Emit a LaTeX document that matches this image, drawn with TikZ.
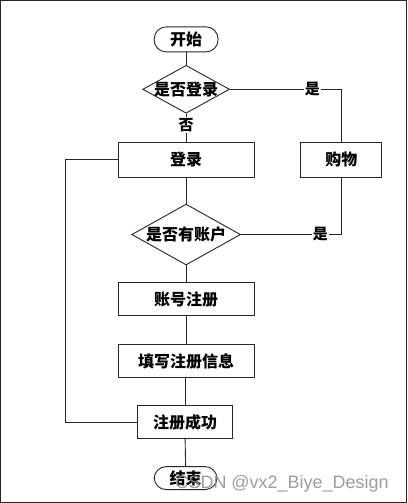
\documentclass[tikz,border=0pt]{standalone}
\usepackage{fontspec}
\newfontfamily\cjk{Noto Sans CJK SC}
\newfontfamily\wmfont{Liberation Sans}
\usetikzlibrary{shapes.geometric}
\begin{document}
\begin{tikzpicture}[x=1pt,y=-1pt,
  every path/.style={line width=0.9pt, draw=black!85},
  cn/.style={font=\cjk\bfseries\fontsize{16}{16}\selectfont},
  box/.style={cn, draw, rectangle, minimum width=136pt, minimum height=35pt, inner sep=0pt},
  term/.style={cn, draw, rectangle, rounded corners=12pt, minimum width=64pt, minimum height=25pt, inner sep=0pt},
  diam/.style={draw, diamond, inner sep=0pt},
  lbl/.style={font=\cjk\bfseries\fontsize{15}{15}\selectfont, fill=white, inner sep=1pt},
  line/.style={draw}]
\useasboundingbox[fill=white] (0,0) rectangle (407,503);

\node[term] (start) at (186,39) {开始};
\node[diam, minimum width=87pt, minimum height=48pt] (d1) at (186,89) {};
\node[cn] (d1t) at (d1) {是否登录};
\node[box] (login) at (186,159.5) {登录};
\node[box, minimum width=81pt] (shop) at (341.5,159.5) {购物};
\node[diam, minimum width=109pt, minimum height=61pt] (d2) at (186,234.5) {};
\node[cn] (d2t) at (d2) {是否有账户};
\node[box, minimum height=33pt] (acct) at (186,299.5) {账号注册};
\node[box, minimum height=33pt] (fill) at (186,361.5) {填写注册信息};
\node[box, minimum width=95pt, minimum height=33pt] (succ) at (185,422.5) {注册成功};
\node[term, minimum height=23pt, minimum width=63pt] (end) at (185.5,478.5) {结束};

\coordinate (t1) at (shop.north |- d1.east);
\coordinate (t2) at (shop.south |- d2.east);
\coordinate (l1) at ([xshift=-52pt]login.west);

\draw (start.south) -- (d1.north);
\draw (d1.south) -- node[lbl, pos=0.4] (no1) {否} (login.north);
\draw (d1.east) -- node[lbl, pos=0.74] (yes1) {是} (t1) -- (shop.north);
\draw (login.south) -- (d2.north);
\draw (d2.east) -- node[lbl, pos=0.79] (yes2) {是} (t2) -- (shop.south);
\draw (d2.south) -- (acct.north);
\draw (acct.south) -- (fill.north);
\draw (fill.south -| succ.north) -- (succ.north);
\draw (succ.south) -- (end.north);
\draw (login.west) -- (l1) |- (succ.west);

\node[font=\wmfont\fontsize{18}{18}\selectfont, text=black!45, opacity=0.85, anchor=west, inner sep=0pt] (wm) at (175,484) {CSDN @vx2\_Biye\_Design};
\end{tikzpicture}
\end{document}
